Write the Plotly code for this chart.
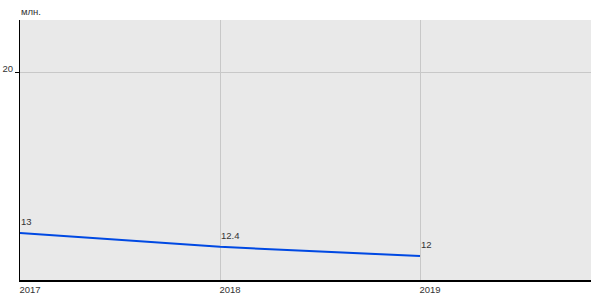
import plotly.graph_objects as go

years = [2017, 2018, 2019]
values = [13, 12.4, 12]
labels = ["13", "12.4", "12"]
unit_label = "млн."

FONT = "Liberation Sans, Arial"
TXT = "#333333"

fig = go.Figure()
fig.add_trace(go.Scatter(
    x=years, y=values, mode="lines",
    line=dict(color="#0049e3", width=2),
    hoverinfo="skip", showlegend=False,
))

for xv, yv, lab in zip(years, values, labels):
    fig.add_annotation(
        x=xv, y=yv, text=lab, showarrow=False,
        xanchor="left", yanchor="bottom", xshift=-1, yshift=4,
        font=dict(family=FONT, size=9.5, color=TXT),
    )

fig.add_annotation(
    text=unit_label, xref="paper", yref="paper", x=0, y=1,
    xanchor="left", yanchor="bottom", yshift=1, xshift=-1, showarrow=False,
    font=dict(family=FONT, size=9.5, color=TXT),
)

fig.update_layout(
    width=600, height=300,
    margin=dict(l=20, r=9, t=20, b=20),
    paper_bgcolor="white", plot_bgcolor="#e9e9e9",
    font=dict(family=FONT, size=9.5, color=TXT),
)
fig.update_xaxes(
    range=[2017, 2019.855], tickvals=years, ticktext=[str(y) for y in years],
    showgrid=True, gridcolor="#c8c8c8", gridwidth=1,
    showline=True, linecolor="black", linewidth=2,
    ticks="", ticklabelshift=10, ticklabelstandoff=0, zeroline=False,
    automargin=False,
)
fig.update_yaxes(
    range=[10.96, 22.26], tickvals=[20], ticktext=["20"],
    showgrid=True, gridcolor="#c8c8c8", gridwidth=1,
    showline=True, linecolor="black", linewidth=1,
    ticks="outside", ticklen=4, tickcolor="black", tickwidth=1,
    ticklabelshift=-3, ticklabelstandoff=0, zeroline=False,
    automargin=False,
)

fig.write_html("out.html")
